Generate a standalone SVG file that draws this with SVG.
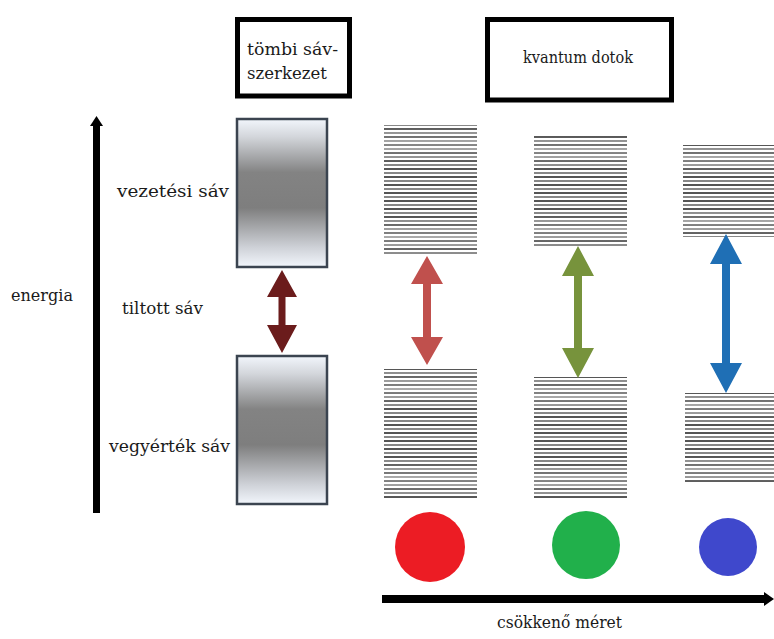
<svg xmlns="http://www.w3.org/2000/svg" width="774" height="639" viewBox="0 0 774 639">
  <defs>
    <style>
      .frame { fill: #ffffff; stroke: #000000; stroke-width: 5; }
      .bulk { fill: url(#bulkGrad); stroke: #3b4450; stroke-width: 2.5; }
      .band { fill: url(#bandLines); }
      .bandFade { fill: url(#bandFade); }
    </style>
    <linearGradient id="bulkGrad" x1="0" y1="0" x2="0" y2="1">
      <stop offset="0" stop-color="#f2f6fc"/>
      <stop offset="0.12" stop-color="#d3d6db"/>
      <stop offset="0.36" stop-color="#838383"/>
      <stop offset="0.6" stop-color="#7e7e7e"/>
      <stop offset="0.87" stop-color="#cfd2d8"/>
      <stop offset="1" stop-color="#f2f6fc"/>
    </linearGradient>
    <linearGradient id="bandFade" x1="0" y1="0" x2="0" y2="1">
      <stop offset="0" stop-color="#ffffff" stop-opacity="0"/>
      <stop offset="0.15" stop-color="#ffffff" stop-opacity="0.3"/>
      <stop offset="0.3" stop-color="#ffffff" stop-opacity="0"/>
      <stop offset="0.7" stop-color="#ffffff" stop-opacity="0"/>
      <stop offset="0.85" stop-color="#ffffff" stop-opacity="0.3"/>
      <stop offset="1" stop-color="#ffffff" stop-opacity="0"/>
    </linearGradient>
    <pattern id="bandLines" patternUnits="userSpaceOnUse" x="0" y="0" width="10" height="8">
      <rect x="0" y="0" width="10" height="2" fill="#555555"/>
      <rect x="0" y="4" width="10" height="2" fill="#878787"/>
    </pattern>
  </defs>

  <rect width="774" height="639" fill="#ffffff"/>

  <g font-family="'DejaVu Serif', 'Liberation Serif', serif" font-size="17" fill="#1a1a1a">
    <!-- header boxes -->
    <g id="bulk-title">
      <rect class="frame" x="237.5" y="19.5" width="112" height="76.5"/>
      <text x="247" y="55" textLength="91" lengthAdjust="spacingAndGlyphs">tömbi sáv-</text>
      <text x="247" y="79" textLength="80" lengthAdjust="spacingAndGlyphs">szerkezet</text>
    </g>
    <g id="qd-title">
      <rect class="frame" x="487.5" y="19.5" width="184" height="80.5"/>
      <text x="523" y="63" textLength="110" lengthAdjust="spacingAndGlyphs">kvantum dotok</text>
    </g>

    <!-- side labels -->
    <g id="axis-labels">
      <text x="11" y="301" textLength="62" lengthAdjust="spacingAndGlyphs">energia</text>
      <text x="117" y="197" textLength="112" lengthAdjust="spacingAndGlyphs">vezetési sáv</text>
      <text x="122" y="314" textLength="81" lengthAdjust="spacingAndGlyphs">tiltott sáv</text>
      <text x="109" y="452" textLength="121" lengthAdjust="spacingAndGlyphs">vegyérték sáv</text>
    </g>

    <g id="size-label">
      <text x="497" y="628" textLength="125" lengthAdjust="spacingAndGlyphs">csökkenő méret</text>
    </g>
  </g>

  <!-- bulk semiconductor bands -->
  <g id="bulk-conduction">
    <rect class="bulk" x="237" y="119" width="90" height="148"/>
  </g>
  <g id="bulk-valence">
    <rect class="bulk" x="237" y="356" width="90" height="148"/>
  </g>

  <!-- quantum dot levels, large dot -->
  <g id="qd1-conduction">
    <rect class="band" x="384" y="125" width="93" height="131"/>
    <rect class="bandFade" x="384" y="125" width="93" height="131"/>
  </g>
  <g id="qd1-valence">
    <rect class="band" x="384" y="369" width="93" height="129"/>
    <rect class="bandFade" x="384" y="369" width="93" height="129"/>
  </g>
  <!-- medium dot -->
  <g id="qd2-conduction">
    <rect class="band" x="534" y="135" width="93" height="112"/>
    <rect class="bandFade" x="534" y="135" width="93" height="112"/>
  </g>
  <g id="qd2-valence">
    <rect class="band" x="534" y="377" width="93" height="121"/>
    <rect class="bandFade" x="534" y="377" width="93" height="121"/>
  </g>
  <!-- small dot -->
  <g id="qd3-conduction">
    <rect class="band" x="683" y="145" width="91" height="92"/>
    <rect class="bandFade" x="683" y="145" width="91" height="92"/>
  </g>
  <g id="qd3-valence">
    <rect class="band" x="685" y="393" width="89" height="91"/>
    <rect class="bandFade" x="685" y="393" width="89" height="91"/>
  </g>

  <!-- dots -->
  <g id="dot-red"><circle cx="430" cy="547" r="35" fill="#ec1c24"/></g>
  <g id="dot-green"><circle cx="586" cy="545" r="34" fill="#21b04b"/></g>
  <g id="dot-blue"><circle cx="728" cy="547" r="29" fill="#3f48cc"/></g>

  <g id="connectors">
    <!-- energy axis -->
    <rect x="93" y="123" width="7" height="390" fill="#000000"/>
    <polygon points="96.5,116 103,126 90,126" fill="#000000"/>
    <!-- size axis -->
    <rect x="382" y="595" width="385" height="8" fill="#000000"/>
    <polygon points="774,599 764,592 764,606" fill="#000000"/>
    <!-- band gap arrows -->
    <polygon fill="#6b1c1c" points="282,270 297,297 285.5,297 285.5,325 297,325 282,353 267,325 278.5,325 278.5,297 267,297"/>
    <polygon fill="#c0504d" points="427,256 443,284 431,284 431,337 443,337 427,365 411,337 423,337 423,284 411,284"/>
    <polygon fill="#77933c" points="578,246 594,276 582,276 582,348 594,348 578,378 562,348 574,348 574,276 562,276"/>
    <polygon fill="#1f6fb5" points="726,234 742,264 730,264 730,363 742,363 726,393 710,363 722,363 722,264 710,264"/>
  </g>
</svg>
